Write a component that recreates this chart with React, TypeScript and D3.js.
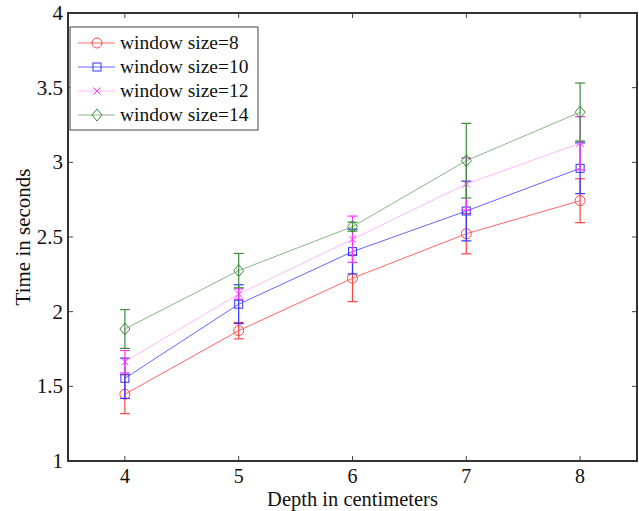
import * as d3 from 'd3';

const depths = [4, 5, 6, 7, 8];
const seriesNames = ['window size=8', 'window size=10', 'window size=12', 'window size=14'];
const meanW8 = [1.447, 1.873, 2.224, 2.522, 2.743];
const errW8 = [0.13, 0.055, 0.157, 0.135, 0.147];
const meanW10 = [1.554, 2.05, 2.402, 2.674, 2.96];
const errW10 = [0.135, 0.13, 0.15, 0.2, 0.17];
const meanW12 = [1.665, 2.118, 2.485, 2.855, 3.128];
const errW12 = [0.075, 0.035, 0.155, 0.175, 0.178];
const meanW14 = [1.884, 2.275, 2.569, 3.011, 3.336];
const errW14 = [0.13, 0.115, 0.03, 0.25, 0.195];
const yTicks = [1, 1.5, 2, 2.5, 3, 3.5, 4];

const series = [
  { name: seriesNames[0], mean: meanW8, err: errW8, line: '#ff6666', bar: '#ff4444', marker: 'circle' },
  { name: seriesNames[1], mean: meanW10, err: errW10, line: '#6666ff', bar: '#3333ff', marker: 'square' },
  { name: seriesNames[2], mean: meanW12, err: errW12, line: '#ffb8ff', bar: '#ff33ff', marker: 'x' },
  { name: seriesNames[3], mean: meanW14, err: errW14, line: '#88b888', bar: '#3c8c3c', marker: 'diamond' },
];

const width = 639;
const height = 511;
const left = 68;
const right = 637;
const top = 13;
const bottom = 461;
const font = '"Liberation Serif", "Times New Roman", serif';

function Marker({ type, cx, cy, color }: { type: string; cx: number; cy: number; color: string }) {
  if (type === 'circle') return <circle cx={cx} cy={cy} r={5} fill="none" stroke={color} strokeWidth={1} />;
  if (type === 'square') return <rect x={cx - 4} y={cy - 4} width={8} height={8} fill="none" stroke={color} strokeWidth={1} />;
  if (type === 'x')
    return (
      <path d={`M${cx - 3.5},${cy - 3.5}L${cx + 3.5},${cy + 3.5}M${cx - 3.5},${cy + 3.5}L${cx + 3.5},${cy - 3.5}`} stroke={color} strokeWidth={1} />
    );
  return <path d={`M${cx},${cy - 6}L${cx + 5},${cy}L${cx},${cy + 6}L${cx - 5},${cy}Z`} fill="none" stroke={color} strokeWidth={1} />;
}

export default function App() {
  const x = d3.scaleLinear().domain([3.5, 8.5]).range([left, right]);
  const y = d3.scaleLinear().domain([1, 4]).range([bottom, top]);
  const line = d3.line<number>().x((_, i) => x(depths[i])).y(d => y(d));

  return (
    <svg width={width} height={height} style={{ position: 'absolute', left: 0, top: 0, background: '#fff' }}>
      {series.map(s => (
        <g key={s.name}>
          <path d={line(s.mean) || ''} fill="none" stroke={s.line} strokeWidth={1} />
          {s.mean.map((m, i) => {
            const cx = x(depths[i]);
            const y0 = y(m - s.err[i]);
            const y1 = y(m + s.err[i]);
            return (
              <g key={i} stroke={s.bar} strokeWidth={1.2}>
                <line x1={cx} x2={cx} y1={y0} y2={y1} />
                <line x1={cx - 5} x2={cx + 5} y1={y0} y2={y0} />
                <line x1={cx - 5} x2={cx + 5} y1={y1} y2={y1} />
              </g>
            );
          })}
          {s.mean.map((m, i) => (
            <Marker key={'m' + i} type={s.marker} cx={x(depths[i])} cy={y(m)} color={s.bar} />
          ))}
        </g>
      ))}

      {/* ticks on all four sides */}
      {depths.map(d => (
        <g key={'xt' + d} stroke="#444" strokeWidth={1}>
          <line x1={x(d)} x2={x(d)} y1={bottom} y2={bottom - 5} />
          <line x1={x(d)} x2={x(d)} y1={top} y2={top + 5} />
        </g>
      ))}
      {yTicks.map(t => (
        <g key={'yt' + t} stroke="#444" strokeWidth={1}>
          <line x1={left} x2={left + 5} y1={y(t)} y2={y(t)} />
          <line x1={right} x2={right - 5} y1={y(t)} y2={y(t)} />
        </g>
      ))}
      <rect x={left} y={top} width={right - left} height={bottom - top} fill="none" stroke="#333" strokeWidth={2} />

      <g fontFamily={font} fill="#111">
        {depths.map(d => (
          <text key={'xl' + d} x={x(d)} y={bottom + 22} textAnchor="middle" fontSize={20}>{d}</text>
        ))}
        {yTicks.map(t => (
          <text key={'yl' + t} x={left - 5} y={y(t) + 7} textAnchor="end" fontSize={21}>{t}</text>
        ))}
        <text x={(left + right) / 2} y={506} textAnchor="middle" fontSize={20.5}>Depth in centimeters</text>
        <text transform={`translate(30,${(top + bottom) / 2}) rotate(-90)`} textAnchor="middle" fontSize={21}>Time in seconds</text>
      </g>

      <g>
        <rect x={70} y={27} width={188} height={103} fill="#fff" stroke="#444" strokeWidth={1} />
        {series.map((s, i) => {
          const ly = 43 + i * 24;
          return (
            <g key={'lg' + i}>
              <line x1={78} x2={115} y1={ly} y2={ly} stroke={s.line} strokeWidth={1} />
              <Marker type={s.marker} cx={97} cy={ly} color={s.bar} />
              <text x={120} y={ly + 6} fontFamily={font} fontSize={19.5} fill="#111">{s.name}</text>
            </g>
          );
        })}
      </g>
    </svg>
  );
}
